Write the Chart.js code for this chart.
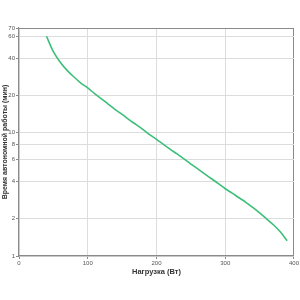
<!DOCTYPE html>
<html>
<head>
<meta charset="utf-8">
<script src="https://cdn.jsdelivr.net/npm/chart.js@4.4.0/dist/chart.umd.min.js"></script>
<style>
    html, body { margin: 0; padding: 0; background: #fff; }
    #wrap { width: 300px; height: 300px; }
</style>
</head>
<body>
<div id="wrap"><canvas id="runtimeChart" width="300" height="300"></canvas></div>
<script>
// load in watts and runtime in minutes
var loads = [40, 50, 60, 70, 80, 90, 100, 110, 120, 130, 140, 150, 160, 170, 180, 190, 200,
    210, 220, 230, 240, 250, 260, 270, 280, 290, 300, 310, 320, 330, 340, 350, 360, 370, 380, 390];
var runtimes = [60, 45, 37, 31.8, 28.1, 25.1, 22.9, 20.6, 18.7, 16.9, 15.3, 14.0, 12.7, 11.6, 10.6, 9.6, 8.8,
    8.0, 7.3, 6.7, 6.1, 5.55, 5.07, 4.62, 4.22, 3.85, 3.5, 3.23, 2.96, 2.72, 2.47, 2.23, 2.0, 1.79, 1.57, 1.33];
var yTicks = [1, 2, 4, 6, 8, 10, 20, 40, 60, 70];
var xTitle = "Нагрузка (Вт)";
var yTitle = "Время автономной работы (мин)";

var gridColor = "#dcdcdc";
var frameColor = "#8a8a8a";

function makeChart() {
    var points = [];
    for (var i = 0; i < loads.length; i++) {
        points.push({ x: loads[i], y: runtimes[i] });
    }
    var ctx = document.getElementById("runtimeChart").getContext("2d");
    return new Chart(ctx, {
        type: "line",
        data: {
            datasets: [{
                data: points,
                borderColor: "#3cbf78",
                borderWidth: 1.6,
                pointRadius: 0,
                cubicInterpolationMode: "monotone",
                fill: false
            }]
        },
        options: {
            responsive: false,
            animation: false,
            layout: { padding: { top: 28, right: 6, bottom: 24, left: 1 } },
            plugins: { legend: { display: false }, tooltip: { enabled: false } },
            scales: {
                x: {
                    type: "linear",
                    min: 0,
                    max: 400,
                    ticks: {
                        stepSize: 100,
                        color: "#555",
                        font: { family: "Liberation Sans", size: 6 },
                        padding: 1,
                        maxRotation: 0
                    },
                    grid: {
                        color: function (c) { return c.tick && c.tick.value == 400 ? frameColor : gridColor; },
                        tickColor: frameColor,
                        tickLength: 3
                    },
                    border: { color: frameColor, width: 1.2 },
                    title: {
                        display: true,
                        text: xTitle,
                        color: "#333",
                        font: { family: "Liberation Sans", size: 7.5, weight: "bold" },
                        padding: { top: 0, bottom: 0 }
                    },
                    afterFit: function (scale) { scale.height = 20; }
                },
                y: {
                    type: "logarithmic",
                    min: 1,
                    max: 70,
                    afterBuildTicks: function (scale) {
                        scale.ticks = yTicks.map(function (v) { return { value: v }; });
                    },
                    ticks: {
                        color: "#555",
                        font: { family: "Liberation Sans", size: 6 },
                        padding: 1,
                        callback: function (v) { return String(v); }
                    },
                    grid: {
                        color: function (c) { return c.tick && c.tick.value == 70 ? frameColor : gridColor; },
                        tickColor: frameColor,
                        tickLength: 3
                    },
                    border: { color: frameColor, width: 1.2 },
                    title: {
                        display: true,
                        text: yTitle,
                        color: "#333",
                        font: { family: "Liberation Sans", size: 7, weight: "bold" },
                        padding: { top: 0, bottom: 0 }
                    },
                    afterFit: function (scale) { scale.width = 18; }
                }
            }
        }
    });
}

window.onload = makeChart;
</script>
</body>
</html>
